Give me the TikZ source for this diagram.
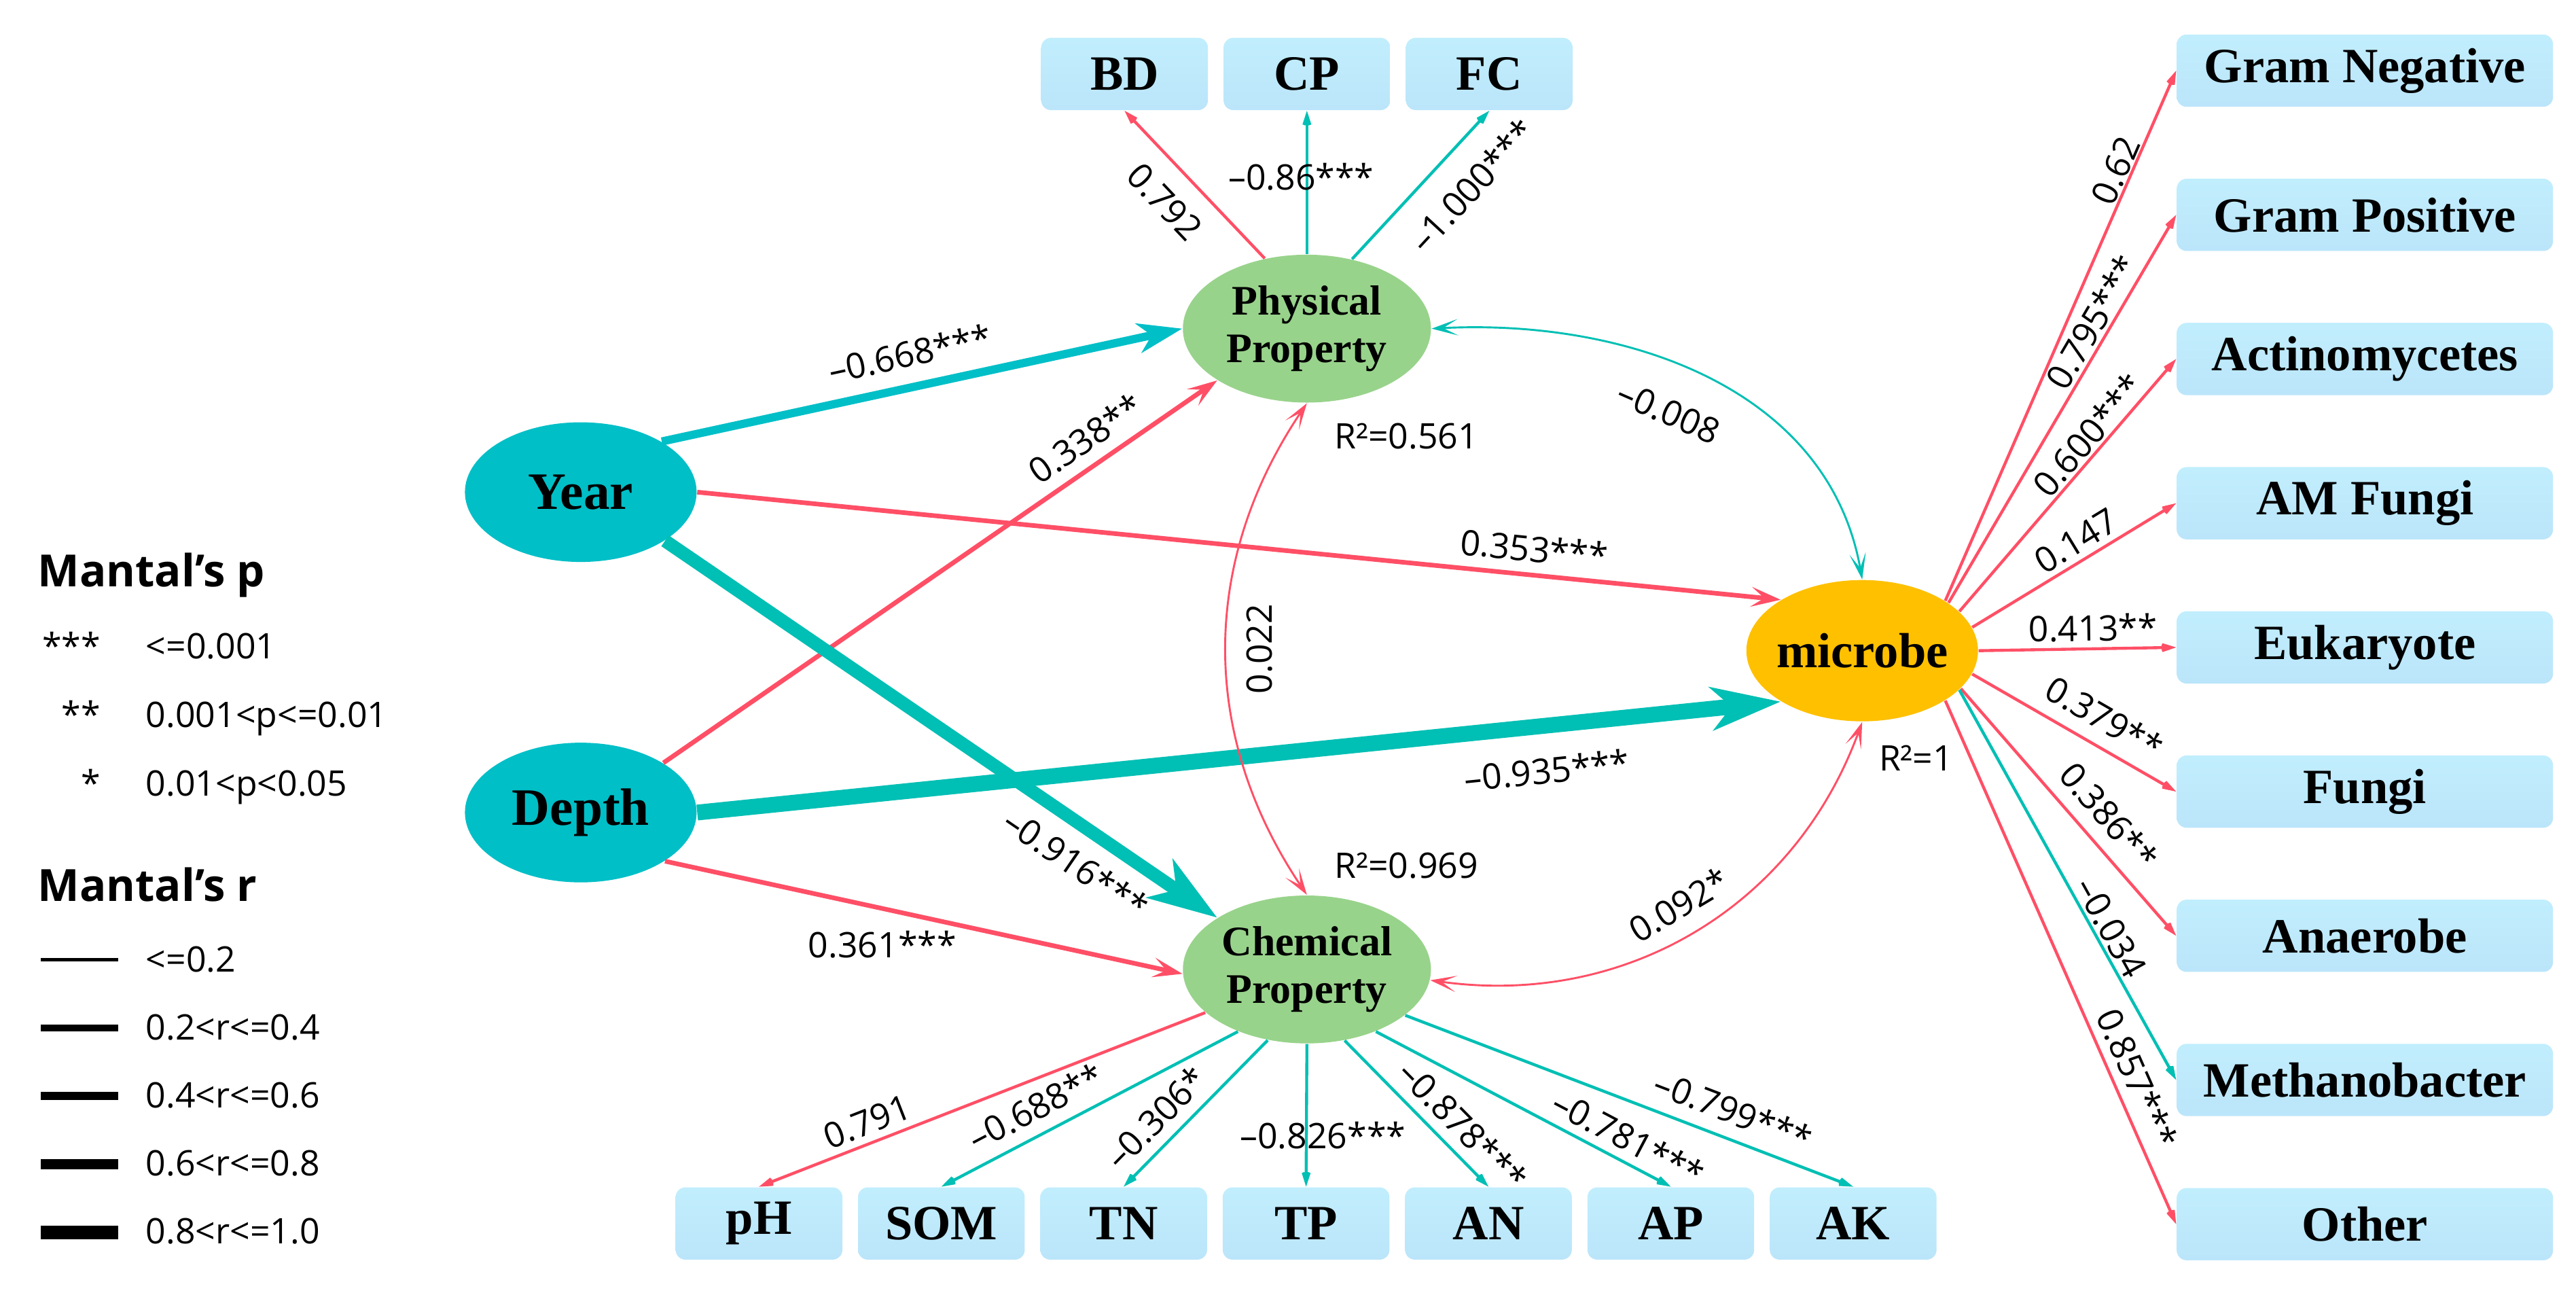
\documentclass[tikz,border=0pt]{standalone}
\usepackage{fontspec}
\setmainfont{Liberation Serif}
\newfontfamily\labfont{Open Sans}
\usetikzlibrary{arrows.meta,shapes.geometric}
\definecolor{latcyan}{RGB}{0,191,199}
\definecolor{pathcyan}{RGB}{0,191,180}
\definecolor{pathred}{RGB}{255,79,102}
\definecolor{latgreen}{RGB}{152,211,139}
\definecolor{micorange}{RGB}{255,192,0}
\definecolor{boxtop}{RGB}{193,238,253}
\definecolor{boxbot}{RGB}{187,229,250}

\begin{document}
\begin{tikzpicture}[x=0.5pt, y=-0.5pt,
    lat/.style={ellipse, inner sep=0pt},
    obs/.style={rectangle, rounded corners=3pt, top color=boxtop, bottom color=boxbot,
        inner sep=0pt, minimum height=22pt, font=\bfseries\fontsize{15}{18}\selectfont},
    lab/.style={font=\labfont\fontsize{10.7}{13}\selectfont, text=black, inner sep=0pt},
    lightarr/.style={line width=0.9pt, -{Stealth[length=8.5pt,width=5.5pt,inset=5pt]}},
    midarr/.style={line width=1.4pt, pathred, -{Stealth[length=9pt,width=6pt,inset=4pt]}},
    curvarr/.style={line width=0.6pt,
        {Stealth[length=8pt,width=5pt,inset=4.5pt]}-{Stealth[length=8pt,width=5pt,inset=4.5pt]}}]
    \useasboundingbox (0,0) rectangle (1568,788);

    % Draw the latent variables
    \node[lat, fill=latcyan, minimum width=70.5pt, minimum height=42.5pt,
        font=\bfseries\fontsize{16}{18}\selectfont] (year) at (353.5,299.5) {Year};
    \node[lat, fill=latcyan, minimum width=70.5pt, minimum height=42.5pt,
        font=\bfseries\fontsize{16}{18}\selectfont] (depth) at (353.5,494.5) {Depth};
    \node[lat, fill=latgreen, minimum width=75.5pt, minimum height=45pt, align=center,
        font=\bfseries\fontsize{12.8}{14.5}\selectfont] (phys) at (795.5,200) {Physical\\Property};
    \node[lat, fill=latgreen, minimum width=75.5pt, minimum height=45pt, align=center,
        font=\bfseries\fontsize{12.8}{14.5}\selectfont] (chem) at (795.5,590) {Chemical\\Property};
    \node[lat, fill=micorange, minimum width=70.5pt, minimum height=43pt, inner xsep=-4pt,
        font=\bfseries\fontsize{15}{18}\selectfont] (mic) at (1133.5,396) {microbe};

    % Draw the observed boxes
    \foreach \name [count=\i] in {BD,CP,FC}
        \node[obs, minimum width=50.75pt] (t\i) at ({573.5+111*\i},45) {\name};
    \foreach \name [count=\i] in {pH,SOM,TN,TP,AN,AP,AK}
        \node[obs, minimum width=50.75pt] (b\i) at ({351+111*\i},744.6) {\name};
    \foreach \name [count=\i] in {Gram Negative,Gram Positive,Actinomycetes,AM Fungi,
            Eukaryote,Fungi,Anaerobe,Methanobacter,Other}
        \node[obs, minimum width=114.5pt] (r\i) at (1439.5,{-44.75+87.75*\i}) {\name};

    % Paths between the latent variables
    \draw[line width=2.5pt, latcyan, -{Stealth[length=13.5pt,width=9pt,inset=4pt]}]
        (year.32) -- node[lab, sloped, above=4.8pt, pos=0.49] (yp) {–0.668***} (phys.west);
    \draw[midarr] (depth.31) -- node[lab, sloped, above=3.5pt, pos=0.79] (dp) {0.338**} (phys.210);
    \draw[midarr] (year.east) -- node[lab, sloped, above=3.2pt, pos=0.77] (ym) {0.353***} (mic.148);
    \draw[line width=4.8pt, pathcyan, -{Stealth[length=21pt,width=13pt,inset=6pt]}]
        (depth.east) -- node[lab, sloped, below=7pt, pos=0.78] (dm) {–0.935***} (mic.212);
    \draw[line width=4pt, pathcyan, -{Stealth[length=21pt,width=14pt,inset=6pt]}]
        (year.-30) -- node[lab, sloped, below=4.5pt, pos=0.78] (yc) {–0.916***} (chem.150);
    \draw[midarr] (depth.-30) -- node[lab, below=6.2pt, pos=0.42] (dc) {0.361***} (chem.182);

    % Covariances
    \draw[curvarr, pathred] (chem.north) to[out=124, in=236]
        node[lab, sloped, below=5.7pt, pos=0.5] (cp) {0.022} (phys.south);
    \draw[curvarr, pathcyan] (phys.east) to[out=3, in=100]
        node[lab, sloped, below=10pt, pos=0.46] (pm) {–0.008} (mic.north);
    \draw[curvarr, pathred] (chem.-5) to[out=-8, in=250]
        node[lab, sloped, above=4.7pt, pos=0.5] (cm) {0.092*} (mic.south);

    % R squared
    \node[lab] (r2phys) at (856,265.5) {R²=0.561};
    \node[lab] (r2chem) at (856,526.8) {R²=0.969};
    \node[lab] (r2mic) at (1166.3,461.4) {R²=1};

    % Physical property loadings
    \draw[lightarr, pathred] (phys.121) -- node[lab, sloped, below=5.8pt, pos=0.54] (tl1) {0.792} (t1.south);
    \draw[lightarr, pathcyan] (phys.north) -- node[lab, pos=0.54, xshift=-1.75pt] (tl2) {–0.86***} (t2.south);
    \draw[lightarr, pathcyan] (phys.57) -- node[lab, sloped, below=7pt, pos=0.67] (tl3) {–1.000***} (t3.south);

    % Chemical property loadings
    \foreach \i/\ang/\col/\val/\t/\off in {1/203.3/pathred/0.791/0.74/2,
            2/222.6/pathcyan/–0.688**/0.64/3.7, 3/241.7/pathcyan/–0.306*/0.65/3.2,
            5/298.9/pathcyan/–0.878***/0.70/3, 6/318.6/pathcyan/–0.781***/0.82/2.5,
            7/335.7/pathcyan/–0.799***/0.71/4}
        \draw[lightarr, \col] (chem.\ang) -- node[lab, sloped, above=\off pt, pos=\t] (bl\i) {\val} (b\i.north);
    \draw[lightarr, pathcyan] (chem.south) -- node[lab, pos=0.64, xshift=5pt] (bl4) {–0.826***} (b4.north);

    % Microbe loadings
    \foreach \i/\ang/\col/\val/\t/\off in {1/31.3/pathred/0.62/0.80/0.3,
            2/29.4/pathred/0.795***/0.70/1, 3/22.3/pathred/0.600***/0.655/0.7,
            4/12.5/pathred/0.147/0.56/1.6, 5/0/pathred/0.413**/0.58/1.8,
            6/-12.3/pathred/0.379**/0.58/4, 7/-21.1/pathred/0.386**/0.59/4,
            8/-22.6/pathcyan/–0.034/0.63/0.8, 9/-31.2/pathred/0.857***/0.74/2.5}
        \draw[lightarr, \col] (mic.\ang) -- node[lab, sloped, above=\off pt, pos=\t] (rl\i) {\val} (r\i.west);

    % Legend
    \node[anchor=base west, inner sep=0pt, font=\labfont\bfseries\fontsize{13.5}{16}\selectfont] (ptitle) at (22.6,357.2) {Mantal’s p};
    \foreach \st/\txt [count=\i] in {***/<=0.001, **/0.001<p<=0.01, */0.01<p<0.05} {
        \node[lab, anchor=base east] (ps\i) at (61.5,{359+41.8*\i}) {\st};
        \node[lab, anchor=base west] (pt\i) at (88.5,{359+41.8*\i}) {\txt};
    }
    \node[anchor=base west, inner sep=0pt, font=\labfont\bfseries\fontsize{13.5}{16}\selectfont] (rtitle) at (22.6,548.3) {Mantal’s r};
    \foreach \w/\txt [count=\i] in {1/<=0.2, 2/0.2<r<=0.4, 2.5/0.4<r<=0.6, 3.25/0.6<r<=0.8, 4.2/0.8<r<=1.0} {
        \coordinate (ls\i) at (25,{542.5+41.5*\i});
        \coordinate (le\i) at (72,{542.5+41.5*\i});
        \draw[line width=\w pt] (ls\i) -- (le\i);
        \node[lab, anchor=base west] (rt\i) at (88.5,{550+41.4*\i}) {\txt};
    }
\end{tikzpicture}
\end{document}
